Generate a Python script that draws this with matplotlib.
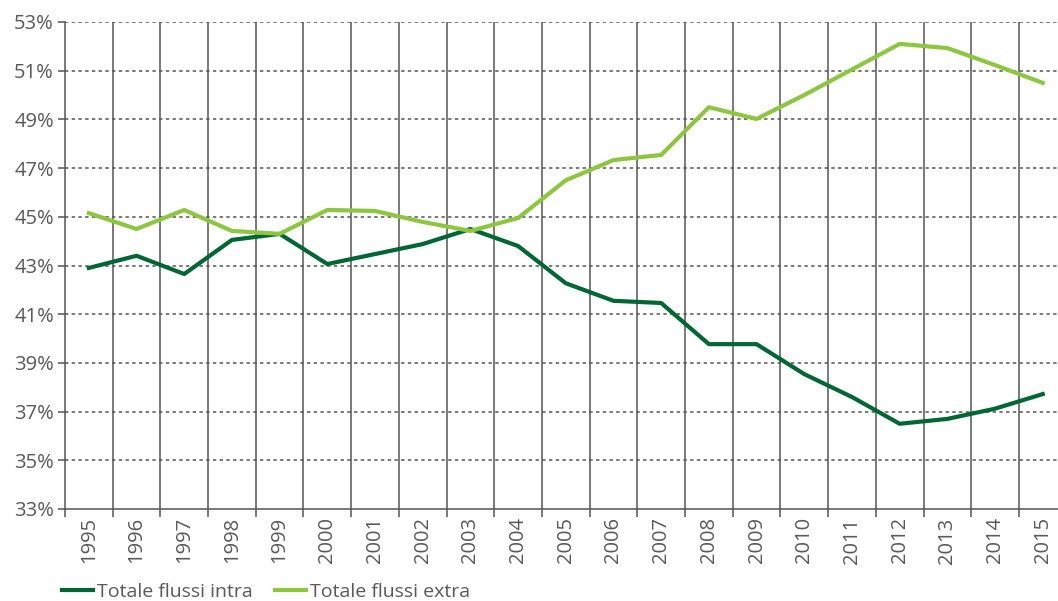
import matplotlib.pyplot as plt
import numpy as np

# data (share in %)
years = [str(y) for y in range(1995, 2016)]
intra = [42.9, 43.4, 42.65, 44.05, 44.3, 43.06, 43.47, 43.88, 44.5, 43.8,
         42.27, 41.55, 41.46, 39.77, 39.77, 38.54, 37.6, 36.5, 36.7, 37.12, 37.72]
extra = [45.15, 44.5, 45.28, 44.42, 44.3, 45.28, 45.24, 44.79, 44.42, 44.95,
         46.5, 47.33, 47.54, 49.5, 49.02, 50.0, 51.05, 52.1, 51.93, 51.23, 50.5]
series_names = ['Totale flussi intra', 'Totale flussi extra']
y_ticks = list(range(33, 54, 2))

plt.rcParams['font.family'] = ['Open Sans', 'DejaVu Sans']
text_col = '#595959'
grid_col = '#555555'

fig = plt.figure(figsize=(10.58, 6.01), dpi=100)
ax = fig.add_axes([65 / 1058, 92 / 601, 1 - 65 / 1058, 487 / 601])

x = np.arange(len(years))
ax.plot(x, intra, color='#006633', lw=3.0, label=series_names[0], zorder=3)
ax.plot(x, extra, color='#8dc63f', lw=3.0, label=series_names[1], zorder=3)

ax.set_xlim(-0.5, 20.32)
ax.set_ylim(33, 53)

# boundaries between categories carry the vertical lines and ticks
ax.set_xticks(np.arange(-0.5, 20.5, 1))
ax.set_xticklabels([])
ax.set_xticks(x, minor=True)
ax.set_xticklabels(years, minor=True, rotation=90, fontsize=14.5, color=text_col)
ax.tick_params(axis='x', which='major', length=6, width=1.1, color=grid_col, direction='out')
ax.tick_params(axis='x', which='minor', length=0, pad=6)
for b in np.arange(0.5, 20.5, 1):
    ax.axvline(b, color=grid_col, lw=1.1, zorder=1)

ax.set_yticks(y_ticks)
ax.set_yticklabels([f'{v}%' for v in y_ticks], fontsize=14.5, color=text_col)
ax.tick_params(axis='y', length=5, width=1.1, color=grid_col, pad=3)
for v in y_ticks[1:]:
    ax.axhline(v, color=grid_col, lw=1.1, ls=(0, (2.2, 2.2)), zorder=1)

for s in ['top', 'right']:
    ax.spines[s].set_visible(False)
ax.spines['left'].set_color(grid_col)
ax.spines['bottom'].set_color(grid_col)
ax.spines['left'].set_linewidth(1.1)
ax.spines['bottom'].set_linewidth(1.1)

leg = fig.legend(loc='center left', bbox_to_anchor=(62 / 1058, 1 - 592 / 601), ncol=2, frameon=False,
                 fontsize=14, handlelength=1.6, handletextpad=0.2, columnspacing=1.15,
                 borderpad=0, borderaxespad=0)
for t in leg.get_texts():
    t.set_color(text_col)

fig.savefig('out.png', dpi=100)
